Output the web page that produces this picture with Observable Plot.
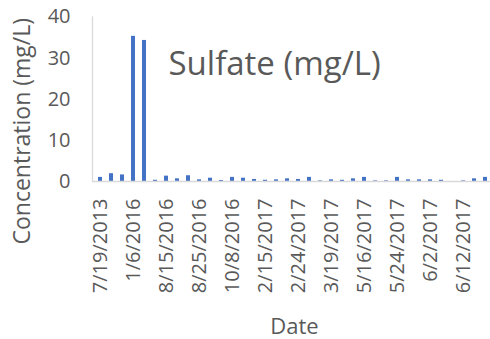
<!DOCTYPE html>
<html>
<head>
<meta charset="utf-8">
<script src="https://cdn.jsdelivr.net/npm/d3@7"></script>
<script src="https://cdn.jsdelivr.net/npm/@observablehq/plot@0.6"></script>
<style>
  html, body { margin: 0; padding: 0; background: #fff; }
  svg { display: block; }
</style>
</head>
<body>
<div id="chart"></div>
<script>
const dates = [
  "7/19/2013", "10/16/2013", "7/8/2015", "1/6/2016", "1/13/2016", "6/1/2016",
  "8/15/2016", "8/18/2016", "8/22/2016", "8/25/2016", "9/12/2016", "9/29/2016",
  "10/8/2016", "11/3/2016", "12/7/2016", "2/15/2017", "2/18/2017", "2/21/2017",
  "2/24/2017", "3/2/2017", "3/9/2017", "3/19/2017", "4/13/2017", "5/4/2017",
  "5/16/2017", "5/18/2017", "5/21/2017", "5/24/2017", "5/26/2017", "5/30/2017",
  "6/2/2017", "6/6/2017", "6/9/2017", "6/12/2017", "6/15/2017", "6/19/2017"
];
const sulfate = [
  1.0, 1.9, 1.6, 35.3, 34.3, 0.3,
  1.3, 0.65, 1.4, 0.4, 0.8, 0.25,
  1.0, 0.8, 0.5, 0.3, 0.4, 0.65,
  0.5, 1.0, 0.15, 0.4, 0.3, 0.65,
  1.0, 0.15, 0.15, 1.0, 0.4, 0.4,
  0.4, 0.3, 0.0, 0.15, 0.65, 1.0
];
const tickLabels = [
  "7/19/2013", "1/6/2016", "8/15/2016", "8/25/2016", "10/8/2016", "2/15/2017",
  "2/24/2017", "3/19/2017", "5/16/2017", "5/24/2017", "6/2/2017", "6/12/2017"
];
const yTicks = [0, 10, 20, 30, 40];
const chartTitle = "Sulfate (mg/L)";
const yTitle = "Concentration (mg/L)";
const xTitle = "Date";

const data = dates.map((d, i) => ({date: d, value: sulfate[i]}));
const font = "'Open Sans', sans-serif";
const grey = "#595959";

const chart = Plot.plot({
  width: 490,
  height: 339,
  marginLeft: 92,
  marginRight: -2,
  marginTop: 16.5,
  marginBottom: 158,
  style: {fontFamily: font, background: "#fff"},
  x: {domain: dates, paddingInner: 0.64, paddingOuter: 0.32},
  y: {domain: [0, 40]},
  marks: [
    Plot.frame({anchor: "left", stroke: "#d9d9d9", strokeWidth: 1.3}),
    Plot.barY(data, {x: "date", y: "value", fill: "#4472C4"}),
    Plot.ruleY([0], {stroke: "#d9d9d9", strokeWidth: 1.3}),
    Plot.axisY({ticks: yTicks, tickSize: 0, tickPadding: 22, fontSize: 20, color: grey, label: null}),
    Plot.axisX({tickRotate: -90, tickSize: 0, tickPadding: 17, fontSize: 20, color: grey, label: null,
      tickFormat: d => tickLabels.includes(d) ? d : ""}),
    Plot.text([chartTitle], {frameAnchor: "top-left", text: d => d, textAnchor: "start", lineAnchor: "bottom",
      dx: 76, dy: 57.5, fontSize: 33, fill: grey}),
    Plot.text([yTitle], {frameAnchor: "left", text: d => d, rotate: -90, textAnchor: "middle", lineAnchor: "middle",
      dx: -70, dy: 32, fontSize: 23, fill: grey}),
    Plot.text([xTitle], {frameAnchor: "bottom", text: d => d, textAnchor: "middle", lineAnchor: "bottom",
      dx: 2, dy: 152, fontSize: 22, fill: grey})
  ]
});
document.getElementById("chart").appendChild(chart);
</script>
</body>
</html>
